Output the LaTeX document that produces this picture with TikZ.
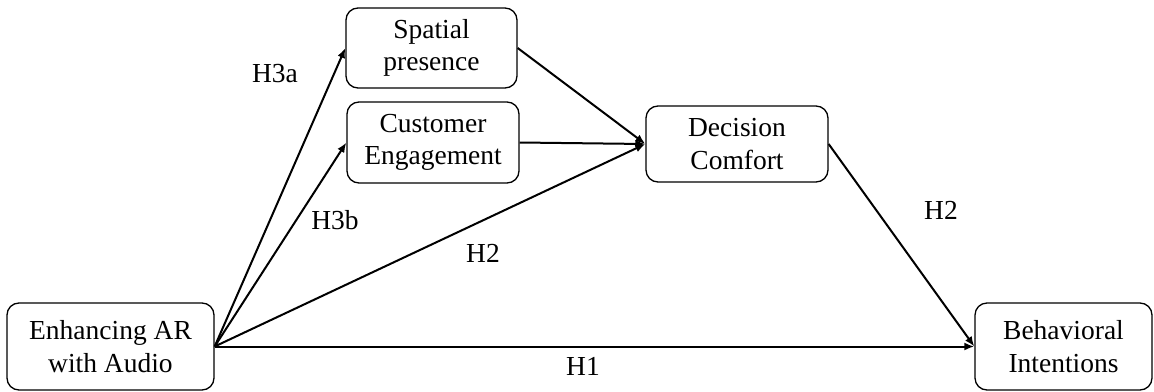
\documentclass[tikz,border=0pt]{standalone}
\usepackage{fontspec}
\setmainfont{Liberation Serif}
\usetikzlibrary{arrows.meta}
\begin{document}
\begin{tikzpicture}[x=1pt,y=-1pt,
  box/.style={draw, line width=1.3pt, rounded corners=12pt, align=center,
    inner sep=0pt, font=\fontsize{27.5pt}{32.5pt}\selectfont},
  arr/.style={line width=2pt, -{Latex[length=10pt,width=8pt]}},
  lab/.style={font=\fontsize{27.5pt}{32.5pt}\selectfont, inner sep=0pt}]
\useasboundingbox (0,0) rectangle (1154,391);
\node[box, minimum width=207pt, minimum height=87pt] (E) at (110.5,346.5) {Enhancing AR\\with Audio};
\node[box, minimum width=171pt, minimum height=80pt] (S) at (431.5,48) {Spatial\\presence};
\node[box, minimum width=172pt, minimum height=81pt] (C) at (433,142.5) {Customer\\Engagement};
\node[box, minimum width=182pt, minimum height=76pt] (D) at (737,144) {Decision\\Comfort};
\node[box, minimum width=177pt, minimum height=87pt] (B) at (1063.5,346.5) {Behavioral\\Intentions};
\draw[arr] (E.east) -- (S.west);
\draw[arr] (E.east) -- (C.west);
\draw[arr] (E.east) -- (D.west);
\draw[arr] (E.east) -- (B.west);
\draw[arr] (S.east) -- (D.west);
\draw[arr] (C.east) -- (D.west);
\draw[arr] (D.east) -- (B.west);
\node[lab] (l3a) at (275,74) {H3a};
\node[lab] (l3b) at (335,220) {H3b};
\node[lab] (l2a) at (483,253) {H2};
\node[lab] (l2b) at (941,210) {H2};
\node[lab] (l1) at (583,366) {H1};
\end{tikzpicture}
\end{document}
